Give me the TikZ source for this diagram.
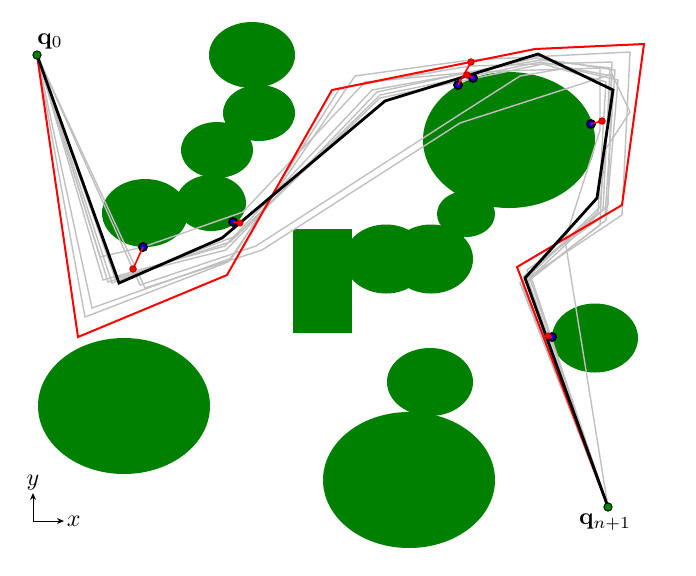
\documentclass[tikz,border=0pt]{standalone}
\usetikzlibrary{arrows.meta}
\definecolor{obst}{HTML}{008000}
\definecolor{pathgray}{HTML}{C0C0C0}
\tikzset{
  obstacle/.style={fill=obst},
  graypath/.style={draw=pathgray,line width=0.7pt,line join=miter},
  redpath/.style={draw=red,line width=1pt},
  blackpath/.style={draw=black,line width=1.4pt},
  bluedot/.style={circle,fill=blue,draw=black,line width=0.9pt,inner sep=0pt,minimum size=4pt},
  reddot/.style={circle,fill=red,draw=red!70!black,line width=0.3pt,inner sep=0pt,minimum size=3.2pt},
  enddot/.style={circle,fill=obst,draw=black,line width=0.4pt,inner sep=0pt,minimum size=4.2pt},
  pen/.style={draw=red,line width=0.8pt},
  lab/.style={scale=1.2},
  axis/.style={draw=black,line width=0.5pt,-{Stealth[length=3.5pt,width=3pt]}}
}
\begin{document}
\begin{tikzpicture}[x=0.5pt,y=-0.5pt]
\useasboundingbox (0,0) rectangle (696,575);
% obstacles
\fill[obstacle] (252,55) ellipse [x radius=43,y radius=33];
\fill[obstacle] (259,113) ellipse [x radius=36,y radius=28];
\fill[obstacle] (217,150) ellipse [x radius=36,y radius=28];
\fill[obstacle] (211,203) ellipse [x radius=35,y radius=28];
\fill[obstacle] (145,213) ellipse [x radius=43,y radius=34];
\fill[obstacle] (509,140) ellipse [x radius=86,y radius=68];
\fill[obstacle] (466,214) ellipse [x radius=29,y radius=23];
\fill[obstacle] (386,259) ellipse [x radius=42,y radius=34.5];
\fill[obstacle] (431,259) ellipse [x radius=42,y radius=34.5];
\fill[obstacle] (293,229) rectangle (352,333);
\fill[obstacle] (595,338) ellipse [x radius=43,y radius=34.5];
\fill[obstacle] (124,406) ellipse [x radius=86,y radius=68];
\fill[obstacle] (430,382) ellipse [x radius=43,y radius=34];
\fill[obstacle] (409,480) ellipse [x radius=86,y radius=68];
% end points
\coordinate (q0) at (37,55);
\coordinate (qn) at (608,507);
% gray candidate trajectories
\draw[graypath] (q0) -- (85,317) -- (228,262) -- (355,76) -- (470,60) -- (630,52) -- (622,215) -- (520,283) -- (qn);
\draw[graypath] (q0) -- (92,308) -- (232,258) -- (340,88) -- (470,66) -- (612,62) -- (608,205) -- (528,280) -- (qn);
\draw[graypath] (q0) -- (103,280) -- (225,246) -- (372,90) -- (540,60) -- (610,68) -- (603,210) -- (524,276) -- (qn);
\draw[graypath] (q0) -- (108,282) -- (230,242) -- (380,95) -- (540,62) -- (612,76) -- (600,207) -- (526,279) -- (qn);
\draw[graypath] (q0) -- (112,283) -- (236,236) -- (380,98) -- (543,64) -- (606,82) -- (598,212) -- (530,274) -- (qn);
\draw[graypath] (q0) -- (145,288) -- (262,250) -- (460,123) -- (587,82) -- (612,74) -- (630,112) -- (603,153) -- (600,225) -- (522,285) -- (qn);
\draw[graypath] (q0) -- (140,285) -- (256,246) -- (448,122) -- (520,76) -- (567,68) -- (618,80) -- (606,220) -- (527,282) -- (qn);
\draw[graypath] (q0) -- (100,257) -- (143,247) -- (243,212) -- (365,82) -- (473,72) -- (600,68) -- (600,130) -- (565,240) -- (qn);
\draw[graypath] (q0) -- (115,278) -- (226,250) -- (377,92) -- (536,58) -- (615,70) -- (605,215) -- (527,270) -- (qn);
% red (initial) trajectory
\draw[redpath] (q0) -- (78,337) -- (227,275) -- (332,90) -- (535,49) -- (644,44) -- (622,205) -- (517,267) -- (qn);
% black (optimised) trajectory
\draw[blackpath] (q0) -- (119,283) -- (222,238) -- (385,101) -- (538,54) -- (613,90) -- (597,198) -- (525,278) -- (qn);
% collision points and penetration vectors
\node[bluedot] (b1) at (143,247) {};
\node[reddot] (r1) at (133,269) {};
\node[bluedot] (b2) at (233,222) {};
\node[reddot] (r2) at (240,223) {};
\node[bluedot] (b3) at (458,85) {};
\node[reddot] (r3) at (471,62) {};
\node[bluedot] (b4) at (473,78) {};
\node[reddot] (r4) at (467,75) {};
\node[bluedot] (b5) at (591,124) {};
\node[reddot] (r5) at (602,121) {};
\node[bluedot] (b6) at (552,337) {};
\node[reddot] (r6) at (548,336) {};
\draw[pen] (b1.center) -- (r1.center);
\draw[pen] (b2.center) -- (r2.center);
\draw[pen] (b3.center) -- (r3.center);
\draw[pen] (b4.center) -- (r4.center);
\draw[pen] (b5.center) -- (r5.center);
\draw[pen] (b6.center) -- (r6.center);
\node[reddot] at (r1) {};
\node[reddot] at (r3) {};
\node[reddot] at (r4) {};
\node[reddot] at (r5) {};
% start / goal
\node[enddot] (q0dot) at (q0) {};
\node[enddot] (qndot) at (qn) {};
\node[lab] (q0lab) at (50,41) {$\mathbf{q}_0$};
\node[lab] (qnlab) at (605,522) {$\mathbf{q}_{n+1}$};
% axes
\coordinate (ax0) at (33,521);
\coordinate (axx) at (64,521);
\coordinate (axy) at (33,493);
\draw[axis] (ax0) -- (axx);
\draw[axis] (ax0) -- (axy);
\node[lab,inner sep=1pt,anchor=west] (xlab) at (axx) {$x$};
\node[lab,inner sep=1pt,anchor=south] (ylab) at (axy) {$y$};
\end{tikzpicture}
\end{document}
